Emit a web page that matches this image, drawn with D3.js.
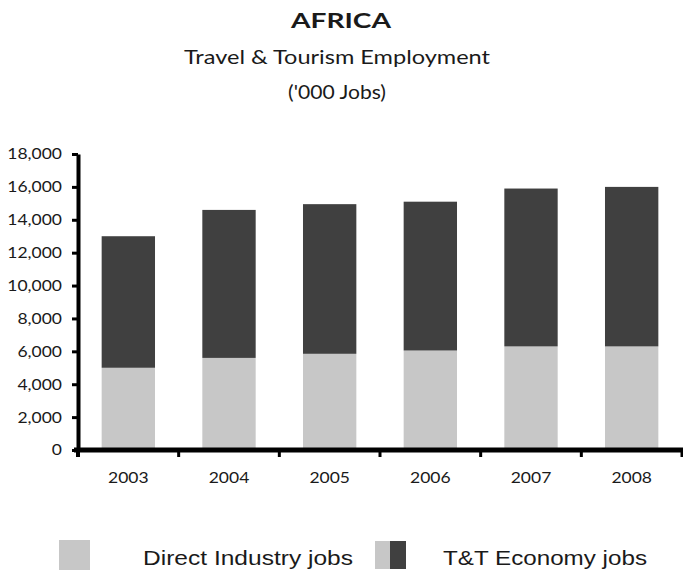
<!DOCTYPE html>
<html>
<head>
<meta charset="utf-8">
<script src="https://cdn.jsdelivr.net/npm/d3@7"></script>
<style>
  body { margin: 0; background: #fff; }
  svg { display: block; }
  .tick text { font-family: Lato, "Open Sans", sans-serif; fill: #1a1a1a; }
</style>
</head>
<body>
<script>
// Data ('000 jobs)
var years = ["2003", "2004", "2005", "2006", "2007", "2008"];
var directJobs = [5000, 5600, 5850, 6050, 6300, 6300];
var economyJobs = [13000, 14600, 14950, 15100, 15900, 16000];
var yTicks = [0, 2000, 4000, 6000, 8000, 10000, 12000, 14000, 16000, 18000];
var titles = ["AFRICA", "Travel & Tourism Employment", "('000 Jobs)"];
var legendLabels = ["Direct Industry jobs", "T&T Economy jobs"];

var width = 683, height = 575;
var light = "#c7c7c7", dark = "#404040";
// the original picture is a bit stretched sideways
var stretch = 1.13;

var svg = d3.select("body").append("svg")
    .attr("width", width)
    .attr("height", height);

// titles
svg.append("text")
    .attr("x", 341).attr("y", 28)
    .attr("text-anchor", "middle")
    .attr("textLength", 100)
    .attr("lengthAdjust", "spacingAndGlyphs")
    .style("font-family", "Lato, sans-serif")
    .style("font-weight", "bold")
    .style("font-size", "21px")
    .style("fill", "#1a1a1a")
    .text(titles[0]);

var subLen = [306, 98];
svg.selectAll(".sub")
    .data(titles.slice(1))
  .enter().append("text")
    .attr("class", "sub")
    .attr("x", 337)
    .attr("y", function(d, i) { return 64 + i * 35; })
    .attr("text-anchor", "middle")
    .attr("textLength", function(d, i) { return subLen[i]; })
    .attr("lengthAdjust", "spacingAndGlyphs")
    .style("font-family", "Lato, sans-serif")
    .style("font-size", "19px")
    .style("fill", "#1a1a1a")
    .text(function(d) { return d; });

var x = d3.scaleBand()
    .domain(years)
    .range([78, 682])
    .padding(0);

var y = d3.scaleLinear()
    .domain([0, 18000])
    .range([450, 154]);

var barW = x.bandwidth() * 0.53;
var barOff = (x.bandwidth() - barW) / 2;

var rows = years.map(function(d, i) {
  return {year: d, direct: directJobs[i], total: economyJobs[i]};
});

// direct industry part
svg.selectAll(".direct")
    .data(rows)
  .enter().append("rect")
    .attr("class", "direct")
    .attr("x", function(d) { return x(d.year) + barOff; })
    .attr("width", barW)
    .attr("y", function(d) { return y(d.direct); })
    .attr("height", function(d) { return y(0) - y(d.direct); })
    .style("fill", light);

// rest of the T&T economy stacked on top
svg.selectAll(".economy")
    .data(rows)
  .enter().append("rect")
    .attr("class", "economy")
    .attr("x", function(d) { return x(d.year) + barOff; })
    .attr("width", barW)
    .attr("y", function(d) { return y(d.total); })
    .attr("height", function(d) { return y(d.direct) - y(d.total); })
    .style("fill", dark);

// y axis
var yAxis = svg.append("g")
    .attr("transform", "translate(78,0)")
    .call(d3.axisLeft(y)
      .tickValues(yTicks)
      .tickFormat(d3.format(",d"))
      .tickSize(6)
      .tickSizeOuter(0)
      .tickPadding(10));

yAxis.select(".domain").style("stroke", "#000").style("stroke-width", 4);
yAxis.selectAll(".tick line").style("stroke", "#000").style("stroke-width", 3);
yAxis.selectAll(".tick text")
    .attr("x", 0)
    .attr("transform", "translate(-16,0) scale(" + stretch + ",1)")
    .style("font-size", "15.5px");

// x axis: labels at band centres, tick marks at band edges
var xAxis = svg.append("g")
    .attr("transform", "translate(0," + y(0) + ")")
    .call(d3.axisBottom(x).tickSize(0).tickSizeOuter(0).tickPadding(22));

xAxis.select(".domain").remove();
xAxis.selectAll(".tick text")
    .attr("transform", "scale(" + stretch + ",1)")
    .style("font-size", "15.5px");

var edges = years.slice(1).map(function(d) { return x(d); }).concat([x.range()[1]]);
svg.selectAll(".xtick")
    .data(edges)
  .enter().append("line")
    .attr("class", "xtick")
    .attr("x1", function(d) { return d; })
    .attr("x2", function(d) { return d; })
    .attr("y1", y(0))
    .attr("y2", y(0) + 7)
    .style("stroke", "#000")
    .style("stroke-width", 3);

svg.append("line")
    .attr("x1", 74).attr("x2", width)
    .attr("y1", y(0)).attr("y2", y(0))
    .style("stroke", "#000")
    .style("stroke-width", 5);

svg.append("line")
    .attr("x1", 78).attr("x2", 78)
    .attr("y1", y(0)).attr("y2", y(0) + 7)
    .style("stroke", "#000")
    .style("stroke-width", 4);

// legend
var legend = svg.append("g").attr("class", "legend");

legend.append("rect")
    .attr("x", 59).attr("y", 540).attr("width", 31).attr("height", 30)
    .style("fill", light);

legend.append("rect")
    .attr("x", 375).attr("y", 541).attr("width", 15).attr("height", 28)
    .style("fill", light);
legend.append("rect")
    .attr("x", 390).attr("y", 541).attr("width", 16).attr("height", 28)
    .style("fill", dark);

var legLen = [210, 204];
legend.selectAll(".lt")
    .data(legendLabels)
  .enter().append("text")
    .attr("class", "lt")
    .attr("x", function(d, i) { return i === 0 ? 143 : 443; })
    .attr("y", 565)
    .attr("textLength", function(d, i) { return legLen[i]; })
    .attr("lengthAdjust", "spacingAndGlyphs")
    .style("font-family", "'Liberation Sans', Arial, sans-serif")
    .style("font-size", "21px")
    .style("fill", "#1a1a1a")
    .text(function(d) { return d; });
</script>
</body>
</html>
